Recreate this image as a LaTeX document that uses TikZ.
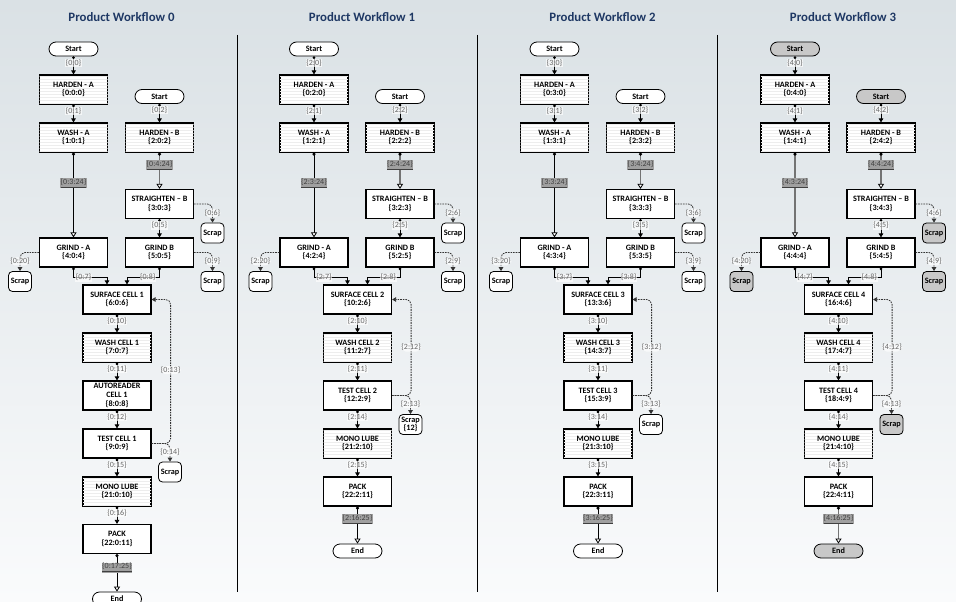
\documentclass[tikz,border=0pt]{standalone}
\usepackage{fontspec}
\setmainfont{Carlito}
\usetikzlibrary{arrows.meta,shadows,patterns}
\definecolor{bgtop}{RGB}{218,225,229}
\definecolor{bgbot}{RGB}{250,251,252}
\definecolor{ttl}{RGB}{31,56,100}
\definecolor{hlgray}{RGB}{160,160,160}
\definecolor{termgray}{RGB}{200,200,200}
\newcommand\WFbf{\fontsize{8.2}{8.8}\selectfont\bfseries}
\newcommand\WFlf{\fontsize{8}{8.8}\selectfont}
\tikzset{
  box/.style={draw=black, line width=1.2pt, fill=white, minimum width=68pt, minimum height=29pt,
    align=center, font=\WFbf, inner sep=1pt,
    drop shadow={shadow xshift=0.8pt, shadow yshift=-0.8pt, opacity=0.5}},
  sbox/.style={box, postaction={pattern=horizontal lines, pattern color=black!7}},
  term/.style={draw=black, line width=0.8pt, rounded corners=7pt, minimum width=49pt,
    minimum height=14pt, font=\WFbf, inner sep=1pt},
  scrapbox/.style={draw=black, line width=0.8pt, rounded corners=4pt, minimum width=23pt,
    minimum height=20pt, font=\WFbf, inner sep=1pt, align=center},
  lbl/.style={font=\WFlf, text=black!60, fill=white, fill opacity=0.65, text opacity=1, inner sep=0.6pt},
  hlbl/.style={font=\WFlf, text=black!75, fill=hlgray, inner sep=0.6pt},
  flow/.style={line width=0.8pt, draw=black, {Circle[length=2.6pt]}-{Triangle[length=4pt,width=4.6pt]}},
  longblk/.style={line width=0.9pt, draw=black,
    {Circle[length=3pt,black]}-{Triangle[length=5pt,width=6pt,fill=white,black,line width=0.8pt]}},
  longgry/.style={longblk, draw=black!55, line width=1.8pt},
  fail/.style={draw=black!80, line width=0.8pt, dash pattern=on 1.6pt off 1pt, rounded corners=5pt,
    -{Triangle[length=4pt,width=4.6pt]}},
  wftitle/.style={font=\fontsize{12.8}{14}\selectfont\bfseries, text=ttl},
}
% #1 shift, #2 k, #3 terminal fill, #4 style of WASH-A -> GRIND-A, #5 surface id, #6 cell number, #7 workflow number
\newcommand\WFtop[7]{%
\begin{scope}[xshift=#1pt]
\node[wftitle] (p#2tt) at (121.5,17) {Product Workflow #7};
\node[term, fill=#3] (p#2sa) at (73.5,49) {Start};
\node[sbox] (p#2ha) at (73.5,89.5) {HARDEN - A\\\{0:#2:0\}};
\node[sbox] (p#2wa) at (73.5,137.5) {WASH - A\\\{1:#2:1\}};
\node[term, fill=#3] (p#2sb) at (159.5,96.5) {Start};
\node[sbox] (p#2hb) at (159.5,137.5) {HARDEN - B\\\{2:#2:2\}};
\node[box] (p#2st) at (159.5,204) {STRAIGHTEN – B\\\{3:#2:3\}};
\node[box] (p#2ga) at (73.5,252.5) {GRIND - A\\\{4:#2:4\}};
\node[box] (p#2gb) at (159.5,252.5) {GRIND B\\\{5:#2:5\}};
\node[scrapbox, fill=#3] (p#2x6) at (212.5,233) {Scrap};
\node[scrapbox, fill=#3] (p#2x9) at (212.5,281.5) {Scrap};
\node[scrapbox, fill=#3] (p#2x20) at (20,281.5) {Scrap};
\node[box] (p#2sf) at (117,299.5) {SURFACE CELL #6\\\{#5:#2:6\}};
\draw[flow] (p#2sa) -- (p#2ha) node[lbl,pos=0.35]{\{#2:0\}};
\draw[flow] (p#2ha) -- (p#2wa) node[lbl,pos=0.35]{\{#2:1\}};
\draw[flow] (p#2sb) -- (p#2hb) node[lbl,pos=0.35]{\{#2:2\}};
\draw[#4] (p#2wa) -- (p#2ga) node[hlbl,pos=0.36]{\underline{\{#2:3:24\}}};
\draw[longgry] (p#2hb) -- (p#2st) node[hlbl,pos=0.34]{\underline{\{#2:4:24\}}};
\draw[flow] (p#2st) -- (p#2gb) node[lbl,pos=0.35]{\{#2:5\}};
\draw[fail] (p#2st.east) -| (p#2x6.north) node[lbl,pos=0.74]{\{#2:6\}};
\draw[fail] (p#2gb.east) -| (p#2x9.north) node[lbl,pos=0.74]{\{#2:9\}};
\draw[fail] (p#2ga.west) -| (p#2x20.north) node[lbl,pos=0.74]{\{#2:20\}};
\draw[flow] (p#2ga.south) -- ++(0,10) -| ([xshift=-10pt]p#2sf.north) node[lbl,pos=0.15]{\{#2:7\}};
\draw[flow] (p#2gb.south) -- ++(0,10) -| ([xshift=10pt]p#2sf.north) node[lbl,pos=0.18]{\{#2:8\}};
\end{scope}}
% #1 shift, #2 k, #3 fill, #4 cell n, #5 wash id, #6 test id, #7 scrap text, #8 end edge style
\newcommand\WFbot[8]{%
\begin{scope}[xshift=#1pt]
\node[sbox] (p#2wc) at (117,347.5) {WASH CELL #4\\\{#5:#2:7\}};
\node[box] (p#2tc) at (117,395.5) {TEST CELL #4\\\{#6:#2:9\}};
\node[sbox] (p#2ml) at (117,443.5) {MONO LUBE\\\{21:#2:10\}};
\node[box] (p#2pk) at (117,491.5) {PACK\\\{22:#2:11\}};
\node[term, fill=#3] (p#2en) at (117,551) {End};
\node[scrapbox, fill=#3] (p#2x13) at (170,424.5) {#7};
\draw[flow] (p#2sf) -- (p#2wc) node[lbl,pos=0.35]{\{#2:10\}};
\draw[flow] (p#2wc) -- (p#2tc) node[lbl,pos=0.35]{\{#2:11\}};
\draw[flow] (p#2tc) -- (p#2ml) node[lbl,pos=0.35]{\{#2:14\}};
\draw[flow] (p#2ml) -- (p#2pk) node[lbl,pos=0.35]{\{#2:15\}};
\draw[#8] (p#2pk) -- (p#2en) node[hlbl,pos=0.34]{\underline{\{#2:16:25\}}};
\draw[fail] (p#2tc.east) -| (p#2x13.north) node[lbl,pos=0.73]{\{#2:13\}};
\draw[fail] (p#2tc.east) -- ++(19,0) |- (p#2sf.east) node[lbl,pos=0.25]{\{#2:12\}};
\end{scope}}
\begin{document}
\begin{tikzpicture}[x=1pt,y=-1pt]
\useasboundingbox (0,0) rectangle (956,602);
\shade[top color=bgtop, bottom color=bgbot] (0,0) rectangle (956,602);
\draw[line width=0.9pt] (237,35) -- (237,592);
\draw[line width=0.9pt] (477,35) -- (477,592);
\draw[line width=0.9pt] (717,35) -- (717,592);
% panel 0
\WFtop{0}{0}{white}{longblk}{6}{1}{0}
\node[sbox] (p0wc) at (117,347.5) {WASH CELL 1\\\{7:0:7\}};
\node[box] (p0ar) at (117,395.5) {AUTOREADER\\CELL 1\\\{8:0:8\}};
\node[box] (p0tc) at (117,443.5) {TEST CELL 1\\\{9:0:9\}};
\node[sbox] (p0ml) at (117,491.5) {MONO LUBE\\\{21:0:10\}};
\node[box] (p0pk) at (117,539) {PACK\\\{22:0:11\}};
\node[term, fill=white] (p0en) at (117,599) {End};
\node[scrapbox, fill=white] (p0x14) at (170,472) {Scrap};
\draw[flow] (p0sf) -- (p0wc) node[lbl,pos=0.35]{\{0:10\}};
\draw[flow] (p0wc) -- (p0ar) node[lbl,pos=0.35]{\{0:11\}};
\draw[flow] (p0ar) -- (p0tc) node[lbl,pos=0.35]{\{0:12\}};
\draw[flow] (p0tc) -- (p0ml) node[lbl,pos=0.35]{\{0:15\}};
\draw[flow] (p0ml) -- (p0pk) node[lbl,pos=0.35]{\{0:16\}};
\draw[longblk] (p0pk) -- (p0en) node[hlbl,pos=0.36]{\underline{\{0:17:25\}}};
\draw[fail] (p0tc.east) -| (p0x14.north) node[lbl,pos=0.73]{\{0:14\}};
\draw[fail] (p0tc.east) -- ++(19,0) |- (p0sf.east) node[lbl,pos=0.255]{\{0:13\}};
% panel 1
\WFtop{240.5}{2}{white}{longblk}{10}{2}{1}
\WFbot{240.5}{2}{white}{2}{11}{12}{Scrap\\\{12\}}{longblk}
% panel 2
\WFtop{481}{3}{white}{longblk}{13}{3}{2}
\WFbot{481}{3}{white}{3}{14}{15}{Scrap}{longblk}
% panel 3
\WFtop{721.5}{4}{termgray}{longgry}{16}{4}{3}
\WFbot{721.5}{4}{termgray}{4}{17}{18}{Scrap}{longgry}
\end{tikzpicture}
\end{document}
